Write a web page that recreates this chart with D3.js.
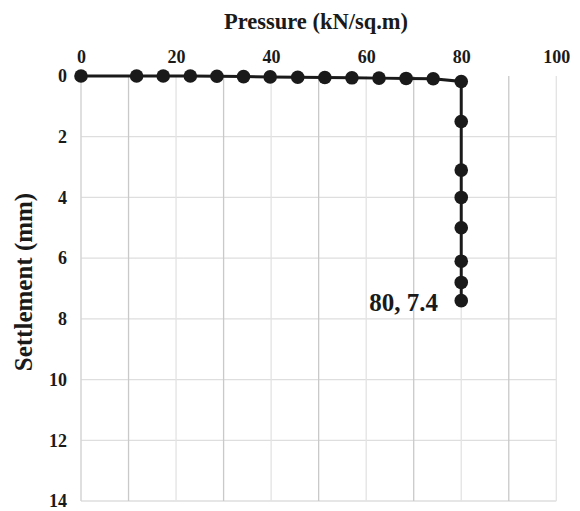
<!DOCTYPE html>
<html><head><meta charset="utf-8">
<script src="https://cdn.jsdelivr.net/npm/d3@7"></script>
<style>body{margin:0;background:#fff}text{font-family:"Liberation Serif","Times New Roman",serif;font-weight:bold;fill:#1a1a1a}</style>
</head><body><svg id="c" width="580" height="511"></svg>
<script>
const pressure = [0, 11.7, 17.3, 23, 28.6, 34.2, 39.8, 45.6, 51.3, 57, 62.7, 68.4, 74.1, 80, 80, 80, 80, 80, 80, 80, 80];
const settlement = [0, 0, 0, 0, 0.01, 0.02, 0.03, 0.04, 0.05, 0.06, 0.07, 0.08, 0.09, 0.18, 1.5, 3.1, 4.0, 5.0, 6.1, 6.8, 7.4];
const xTicks = [0, 20, 40, 60, 80, 100];
const yTicks = [0, 2, 4, 6, 8, 10, 12, 14];
const xGrid = [10, 20, 30, 40, 50, 60, 70, 80, 90, 100];
const label = "80, 7.4";

const svg = d3.select("#c");
const x = d3.scaleLinear().domain([0, 100]).range([81, 556.3]);
const y = d3.scaleLinear().domain([0, 14]).range([76, 501]);

// horizontal gridlines
svg.append("g").selectAll("line").data(yTicks.slice(1)).join("line")
  .attr("x1", x(0)).attr("x2", x(100)).attr("y1", d => y(d)).attr("y2", d => y(d))
  .attr("stroke", "#dedede").attr("stroke-width", 1.3);
// vertical gridlines
svg.append("g").selectAll("line").data(xGrid).join("line")
  .attr("x1", d => x(d)).attr("x2", d => x(d)).attr("y1", y(0)).attr("y2", y(14))
  .attr("stroke", d => (d % 20 === 0 ? "#e3e3e3" : "#c9c9c9")).attr("stroke-width", 1.3);
// left axis line
svg.append("line").attr("x1", x(0)).attr("x2", x(0)).attr("y1", y(0)).attr("y2", y(14))
  .attr("stroke", "#d4d4d4").attr("stroke-width", 1.5);

// axes tick labels
const xAxis = d3.axisTop(x).tickValues(xTicks).tickSize(0).tickPadding(0);
const gx = svg.append("g").attr("transform", `translate(0,${y(0) - 13})`).call(xAxis);
gx.select(".domain").remove();
gx.selectAll("text").attr("font-size", 18).attr("fill", "#1a1a1a")
  .style("font-family", '"Liberation Serif",serif').style("font-weight", "bold");

const yAxis = d3.axisLeft(y).tickValues(yTicks).tickSize(0).tickPadding(0);
const gy = svg.append("g").attr("transform", `translate(${x(0) - 14},0)`).call(yAxis);
gy.select(".domain").remove();
gy.selectAll("text").attr("font-size", 18).attr("fill", "#1a1a1a")
  .style("font-family", '"Liberation Serif",serif').style("font-weight", "bold");

// titles
svg.append("text").attr("x", 316).attr("y", 29).attr("text-anchor", "middle")
  .attr("font-size", 22.5).text("Pressure (kN/sq.m)");
svg.append("text").attr("transform", `translate(32,282) rotate(-90)`).attr("text-anchor", "middle")
  .attr("font-size", 25).text("Settlement (mm)");

// line & points
const pts = pressure.map((p, i) => [p, settlement[i]]);
svg.append("path").datum(pts)
  .attr("d", d3.line().x(d => x(d[0])).y(d => y(d[1])))
  .attr("fill", "none").attr("stroke", "#1a1a1a").attr("stroke-width", 3);
svg.append("g").selectAll("circle").data(pts).join("circle")
  .attr("cx", d => x(d[0])).attr("cy", d => y(d[1])).attr("r", 6.8).attr("fill", "#1a1a1a");

// data label
const last = pts[pts.length - 1];
svg.append("text").attr("x", 438).attr("y", 311)
  .attr("text-anchor", "end").attr("font-size", 25).text(label);
</script></body></html>
